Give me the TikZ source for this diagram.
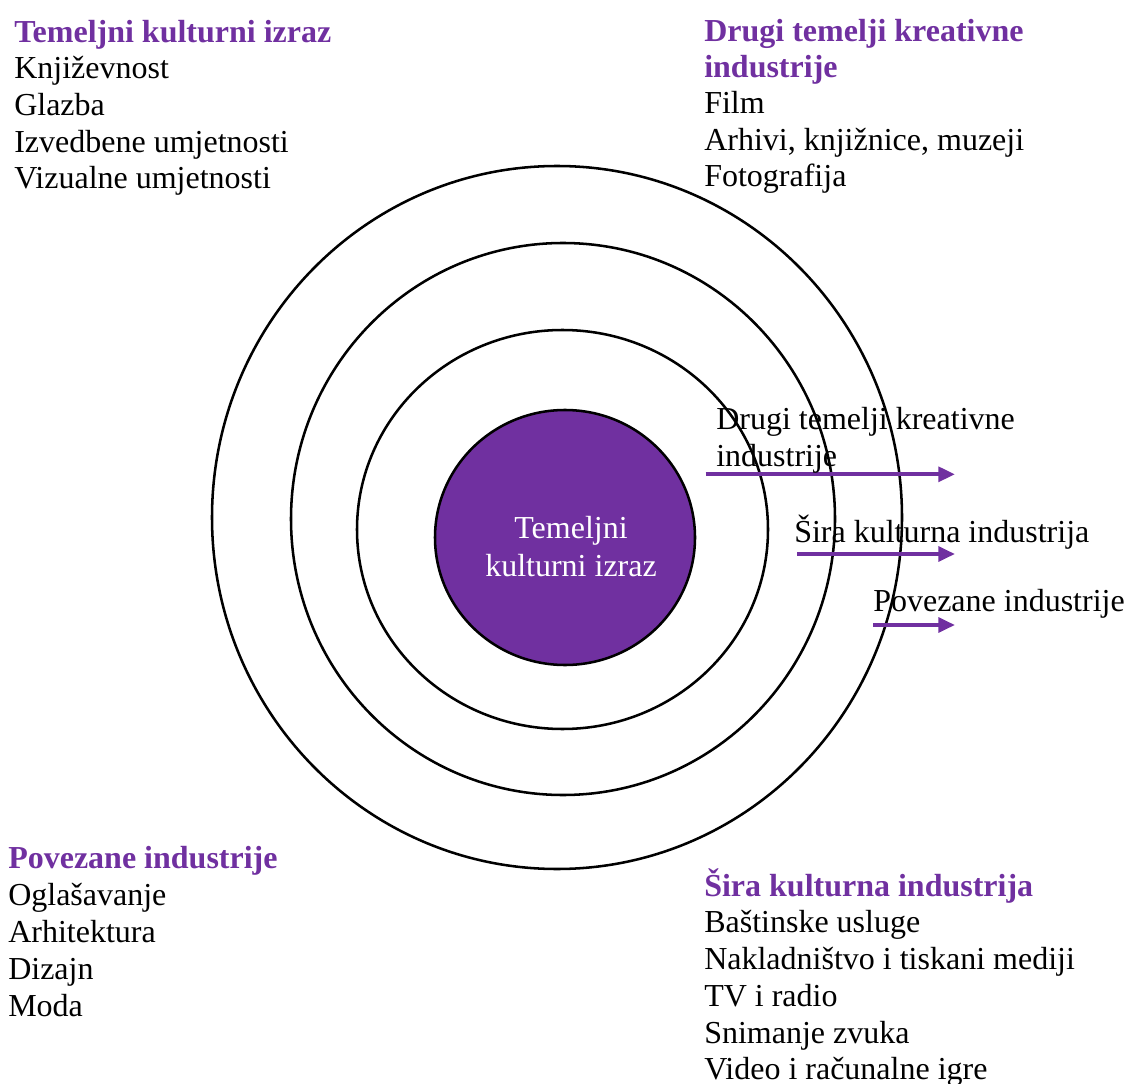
\documentclass[tikz,border=0pt]{standalone}
\usepackage{fontspec}
\setmainfont{Liberation Serif}
\usepackage{tikz}
\usepackage{xcolor}
\usetikzlibrary{arrows.meta,positioning}
\definecolor{kpurple}{RGB}{112,48,160}

\begin{document}
\begin{tikzpicture}[x=0.75pt,y=0.75pt,yscale=-1,xscale=1,
  txt/.style={anchor=base west,inner sep=0pt,font=\fontsize{24}{27.6}\selectfont},
  head/.style={txt,text=kpurple,font=\fontsize{24}{27.6}\selectfont\bfseries},
  ring/.style={draw=black,line width=1.9pt},
  flow/.style={draw=kpurple,line width=3pt,-{Triangle[length=12.5pt,width=11pt]}}]
\useasboundingbox (0,0) rectangle (1125,1084);

%Ellipses
\draw [ring] (557,517.5) ellipse [x radius=345, y radius=351.5];
\draw [ring] (563,519) ellipse [x radius=272, y radius=276];
\draw [ring] (562.5,529.5) ellipse [x radius=205.5, y radius=199.5];
\draw [ring,fill=kpurple] (565,537.5) ellipse [x radius=130, y radius=127.5];

% Text Node
\node (core1) [txt,anchor=base,text=white] at (571,538) {Temeljni};
\node (core2) [txt,anchor=base,text=white] at (571,576) {kulturni izraz};

%Arrows
\coordinate (a1s) at (705.7,474.3);
\coordinate (a1e) at (955,474.3);
\coordinate (a2s) at (797,554);
\coordinate (a2e) at (955,554);
\coordinate (a3s) at (873,625);
\coordinate (a3e) at (955,625);
\draw [flow] (a1s) -- (a1e);
\draw [flow] (a2s) -- (a2e);
\draw [flow] (a3s) -- (a3e);

% Text Node
\node (lab1a) [txt] at (716,430) {Drugi temelji kreativne};
\node (lab1b) [txt] at (716,466) {industrije};
\node (lab2) [txt] at (794,542.5) {Šira kulturna industrija};
\node (lab3) [txt] at (873,611) {Povezane industrije};

% Text Node
\node (tl0) [head] at (14,42.5) {Temeljni kulturni izraz};
\node (tl1) [txt] at (14,79) {Književnost};
\node (tl2) [txt] at (14,115.5) {Glazba};
\node (tl3) [txt] at (14,152.5) {Izvedbene umjetnosti};
\node (tl4) [txt] at (14,189) {Vizualne umjetnosti};

% Text Node
\node (tr0) [head] at (704,41.5) {Drugi temelji kreativne};
\node (tr1) [head] at (704,77.5) {industrije};
\node (tr2) [txt] at (704,114) {Film};
\node (tr3) [txt] at (704,151) {Arhivi, knjižnice, muzeji};
\node (tr4) [txt] at (704,186.5) {Fotografija};

% Text Node
\node (bl0) [head] at (8,868.5) {Povezane industrije};
\node (bl1) [txt] at (8,905) {Oglašavanje};
\node (bl2) [txt] at (8,942) {Arhitektura};
\node (bl3) [txt] at (8,979) {Dizajn};
\node (bl4) [txt] at (8,1016) {Moda};

% Text Node
\node (br0) [head] at (704,896) {Šira kulturna industrija};
\node (br1) [txt] at (704,932.5) {Baštinske usluge};
\node (br2) [txt] at (704,969) {Nakladništvo i tiskani mediji};
\node (br3) [txt] at (704,1006) {TV i radio};
\node (br4) [txt] at (704,1043) {Snimanje zvuka};
\node (br5) [txt] at (704,1079) {Video i računalne igre};

\end{tikzpicture}
\end{document}
